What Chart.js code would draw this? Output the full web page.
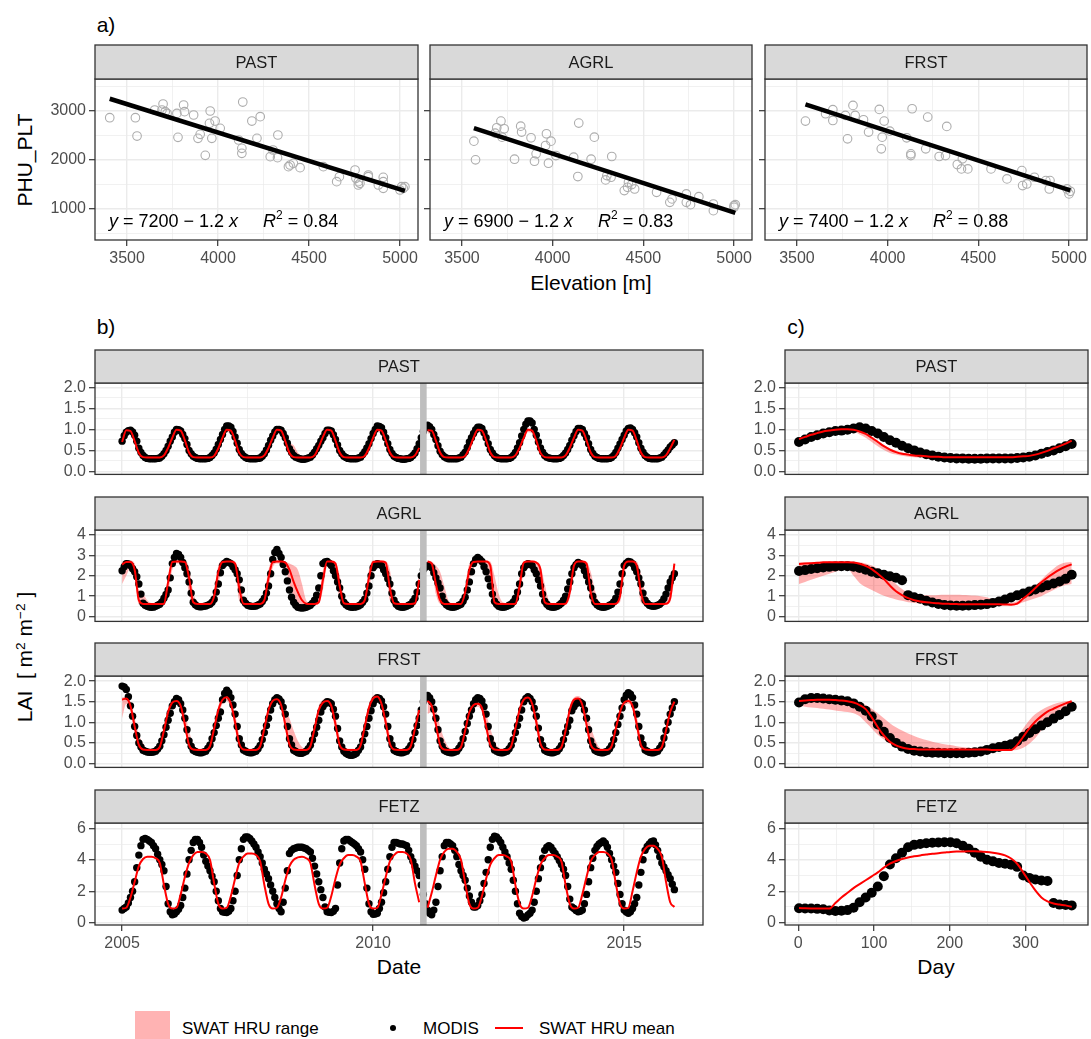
<!DOCTYPE html>
<html>
<head>
<meta charset="utf-8">
<script src="https://cdn.jsdelivr.net/npm/chart.js@4.4.0/dist/chart.umd.min.js"></script>
<style>
  body { margin: 0; width: 1091px; height: 1039px; position: relative; overflow: hidden; background: #fff;
         font-family: "Liberation Sans", Arial, sans-serif; color: #000; }
  canvas { position: absolute; }
  .t { position: absolute; white-space: nowrap; line-height: 1; }
  .c { transform: translate(-50%, -50%); }
  .v { transform: translate(-50%, -50%) rotate(-90deg); }
  .m { transform: translateY(-50%); }
  sup { font-size: 65%; vertical-align: 0; position: relative; top: -0.55em; }
</style>
</head>
<body>

<div class="t c" style="left:106px;top:24px;font-size:21px">a)</div>
<div class="t c" style="left:106px;top:326px;font-size:21px">b)</div>
<div class="t c" style="left:796px;top:326px;font-size:21px">c)</div>

<div class="t c" style="left:591px;top:282px;font-size:21px">Elevation [m]</div>
<div class="t v" style="left:24px;top:160px;font-size:21px">PHU_PLT</div>
<div class="t v" style="left:24px;top:657px;font-size:21px">LAI&nbsp; [ m<sup>2</sup> m<sup>&minus;2</sup> ]</div>
<div class="t c" style="left:399px;top:966px;font-size:21px">Date</div>
<div class="t c" style="left:936px;top:966px;font-size:21px">Day</div>

<!-- legend -->
<div style="position:absolute;left:135px;top:1011px;width:35px;height:35px;background:#ffb3b3"></div>
<div class="t m" style="left:182px;top:1028px;font-size:17px">SWAT HRU range</div>
<div style="position:absolute;left:390px;top:1025px;width:6px;height:6px;border-radius:50%;background:#000"></div>
<div class="t m" style="left:423px;top:1028px;font-size:17px">MODIS</div>
<div style="position:absolute;left:495px;top:1027px;width:28px;height:2px;background:#ff0000"></div>
<div class="t m" style="left:539px;top:1028px;font-size:17px">SWAT HRU mean</div>

<script>
// ---------- a) heat units to maturity vs. HRU elevation ----------
const pastElev = [3405,3546,3555,3652,3698,3692,3710,3720,3774,3780,3811,3816,3866,3890,3902,3930,3957,3953,3966,3984,4012,4136,4131,4131,4113,4186,4232,4214,4329,4287,4327,4302,4387,4396,4414,4451,4579,4652,4667,4753,4758,4771,4780,4826,4826,4908,4908,4908,4881,5009,5018,5027,5000,4771];
const pastPhu  = [2863,2863,2489,3020,3142,3020,2986,2950,2950,2462,3122,2986,2918,2442,2523,2095,3000,2748,2442,2795,2646,3183,2238,2136,2408,2795,2884,2442,2510,2068,2047,2204,1864,1898,1932,1843,1864,1558,1660,1796,1626,1558,1524,1694,1660,1646,1558,1422,1490,1456,1422,1456,1388,1490];
const agrlElev = [3566,3575,3692,3715,3733,3721,3683,3790,3824,3829,3881,3909,3900,3966,3961,3977,3991,4018,4116,4139,4144,4212,4230,4326,4292,4299,4322,4395,4413,4436,4452,4418,4573,4646,4658,4737,4737,4760,4806,4886,4886,5000,5007,5000];
const agrlPhu  = [2384,2003,2657,2794,2637,2466,2548,2016,2691,2569,2453,2125,1975,2535,2296,1934,2384,2091,2057,1662,2753,2016,2466,2071,1593,1682,1648,1375,1443,1498,1409,1546,1341,1136,1205,1307,1136,1089,1252,1102,966,1068,1089,1034];
const frstElev = [3547,3698,3658,3698,3767,3809,3821,3867,3895,3779,3954,3981,3970,3965,4012,4105,4128,4128,4135,4221,4210,4284,4326,4319,4384,4412,4407,4442,4570,4658,4740,4744,4767,4809,4872,4891,4895,4989,5000,5007];
const frstPhu  = [2794,3026,2944,2807,2910,3114,2910,2821,2569,2432,3033,2794,2466,2228,2589,2453,2125,2091,3046,2876,2228,2071,2685,2091,1907,2023,1818,1818,1818,1614,1784,1477,1511,1648,1580,1409,1580,1409,1307,1361];

const landuse = ['PAST', 'AGRL', 'FRST'];
const fitIntercept = [7200, 6930, 7390];
const fitSlope = [-1.16, -1.2, -1.2];
const fitR2 = [0.84, 0.83, 0.88];

// ---------- b) LAI 2005-2016, c) mean seasonal cycle ----------
const START_YEAR = 2005;
const SPLIT_YEAR = 2011;

// MODIS, twice a month (1st and 16th), one row per year
const pastModis = [
  0.72,0.85,0.93,0.97,0.98,0.94,0.86,0.72,0.55,0.45,0.38,0.33,0.31,0.30,0.30,0.30,0.30,0.31,0.32,0.36,0.42,0.50,0.60,0.72,
  0.82,0.93,1.00,0.99,0.96,0.88,0.78,0.64,0.50,0.42,0.36,0.33,0.31,0.30,0.30,0.30,0.30,0.31,0.33,0.38,0.44,0.53,0.64,0.76,
  0.88,1.00,1.08,1.08,1.05,0.95,0.82,0.67,0.52,0.43,0.37,0.33,0.31,0.30,0.30,0.30,0.30,0.31,0.32,0.36,0.42,0.51,0.62,0.74,
  0.84,0.94,1.00,1.00,0.98,0.90,0.80,0.67,0.54,0.45,0.38,0.34,0.32,0.30,0.29,0.29,0.30,0.32,0.34,0.39,0.46,0.54,0.62,0.72,
  0.80,0.90,0.98,0.98,0.96,0.87,0.76,0.63,0.50,0.42,0.36,0.33,0.31,0.30,0.30,0.30,0.30,0.32,0.34,0.40,0.47,0.56,0.66,0.78,
  0.90,1.00,1.08,1.07,1.04,0.93,0.80,0.66,0.52,0.43,0.36,0.33,0.31,0.30,0.29,0.29,0.30,0.31,0.33,0.38,0.44,0.54,0.66,0.80,
  0.95,1.04,1.10,1.06,1.00,0.88,0.76,0.61,0.48,0.40,0.35,0.32,0.30,0.30,0.30,0.30,0.30,0.32,0.34,0.40,0.46,0.57,0.70,0.80,
  0.90,0.99,1.05,1.05,1.02,0.92,0.80,0.66,0.52,0.44,0.37,0.33,0.31,0.30,0.30,0.30,0.30,0.31,0.33,0.38,0.45,0.56,0.68,0.84,
  1.00,1.12,1.20,1.20,1.15,1.00,0.86,0.70,0.56,0.46,0.38,0.34,0.32,0.31,0.30,0.30,0.30,0.31,0.33,0.38,0.44,0.52,0.62,0.74,
  0.85,0.95,1.02,1.02,1.00,0.90,0.80,0.66,0.52,0.43,0.36,0.33,0.31,0.30,0.30,0.30,0.30,0.31,0.33,0.38,0.45,0.55,0.65,0.76,
  0.86,0.96,1.02,1.03,1.00,0.92,0.82,0.68,0.55,0.46,0.38,0.34,0.31,0.30,0.30,0.30,0.30,0.32,0.34,0.39,0.45,0.51,0.58,0.63,
  0.68];
// SWAT HRU mean and range, monthly (1st of month), one row per year
const pastMean = [
  0.70,0.98,0.96,0.72,0.44,0.34,0.33,0.33,0.33,0.33,0.38,0.56,
  0.80,0.99,0.97,0.74,0.45,0.34,0.33,0.33,0.33,0.33,0.37,0.55,
  0.80,0.99,0.97,0.73,0.44,0.34,0.33,0.33,0.33,0.33,0.38,0.56,
  0.80,0.99,0.97,0.72,0.44,0.34,0.33,0.33,0.33,0.33,0.38,0.58,
  0.82,0.99,0.97,0.73,0.45,0.34,0.33,0.33,0.33,0.33,0.37,0.55,
  0.80,0.99,0.97,0.74,0.45,0.34,0.33,0.33,0.33,0.33,0.38,0.56,
  null,0.98,0.97,0.73,0.45,0.34,0.33,0.33,0.33,0.33,0.37,0.55,
  0.80,0.99,0.97,0.74,0.45,0.34,0.33,0.33,0.33,0.33,0.38,0.56,
  0.80,0.99,0.97,0.73,0.44,0.34,0.33,0.33,0.33,0.33,0.38,0.56,
  0.80,0.99,0.97,0.74,0.45,0.34,0.33,0.33,0.33,0.33,0.37,0.55,
  0.80,0.99,0.97,0.73,0.45,0.34,0.33,0.33,0.33,0.33,0.38,0.55,
  0.75];
const pastLo = [
  0.60,0.92,0.90,0.66,0.40,0.31,0.30,0.30,0.30,0.30,0.34,0.48,
  0.72,0.93,0.90,0.68,0.41,0.31,0.30,0.30,0.30,0.30,0.34,0.50,
  0.74,0.93,0.90,0.66,0.40,0.31,0.30,0.30,0.30,0.30,0.34,0.50,
  0.74,0.93,0.90,0.66,0.40,0.31,0.30,0.30,0.30,0.30,0.34,0.50,
  0.75,0.93,0.90,0.68,0.41,0.31,0.30,0.30,0.30,0.30,0.34,0.50,
  0.74,0.93,0.90,0.68,0.41,0.31,0.30,0.30,0.30,0.30,0.34,0.50,
  null,0.90,0.90,0.68,0.41,0.31,0.30,0.30,0.30,0.30,0.34,0.50,
  0.72,0.93,0.90,0.68,0.41,0.31,0.30,0.30,0.30,0.30,0.34,0.50,
  0.74,0.93,0.90,0.68,0.41,0.31,0.30,0.30,0.30,0.30,0.34,0.50,
  0.74,0.93,0.90,0.68,0.41,0.31,0.30,0.30,0.30,0.30,0.34,0.50,
  0.74,0.93,0.90,0.68,0.41,0.31,0.30,0.30,0.30,0.30,0.34,0.50,
  0.70];
const pastHi = [
  0.84,1.02,1.00,0.80,0.52,0.38,0.35,0.35,0.35,0.35,0.42,0.60,
  0.84,1.02,1.00,0.88,0.68,0.45,0.35,0.35,0.35,0.35,0.42,0.60,
  0.84,1.02,1.00,0.78,0.50,0.38,0.35,0.35,0.35,0.35,0.42,0.60,
  0.84,1.02,1.00,0.85,0.68,0.62,0.45,0.36,0.35,0.35,0.42,0.62,
  0.86,1.02,1.00,0.80,0.52,0.38,0.35,0.35,0.35,0.35,0.42,0.60,
  0.84,1.02,1.00,0.80,0.52,0.38,0.35,0.35,0.35,0.35,0.42,0.60,
  null,1.02,1.00,0.80,0.55,0.45,0.35,0.35,0.35,0.35,0.42,0.60,
  0.84,1.02,1.00,0.82,0.60,0.42,0.35,0.35,0.35,0.35,0.42,0.60,
  0.84,1.02,1.00,0.80,0.52,0.38,0.35,0.35,0.35,0.35,0.42,0.60,
  0.84,1.02,1.00,0.80,0.52,0.38,0.35,0.35,0.35,0.35,0.42,0.60,
  0.84,1.02,1.00,0.80,0.52,0.38,0.35,0.35,0.35,0.35,0.42,0.60,
  0.80];

const agrlModis = [
  2.25,2.45,2.60,2.58,2.50,2.35,2.20,1.95,1.60,1.10,0.65,0.55,0.50,0.47,0.45,0.46,0.50,0.55,0.60,0.72,0.90,1.08,1.30,1.90,
  2.60,2.90,3.10,3.05,2.90,2.65,2.40,2.10,1.70,1.15,0.70,0.58,0.50,0.48,0.48,0.50,0.52,0.56,0.60,0.70,0.85,1.20,1.60,2.15,
  2.50,2.62,2.70,2.66,2.60,2.45,2.30,2.10,1.80,1.30,0.80,0.65,0.55,0.52,0.50,0.50,0.52,0.57,0.62,0.74,0.90,1.15,1.50,2.10,
  2.80,3.15,3.30,3.10,2.90,2.55,2.20,1.75,1.30,0.95,0.70,0.55,0.45,0.43,0.42,0.43,0.45,0.50,0.55,0.66,0.80,1.05,1.40,2.00,
  2.60,2.68,2.70,2.62,2.50,2.25,2.00,1.70,1.40,1.00,0.70,0.58,0.50,0.47,0.45,0.46,0.48,0.52,0.58,0.70,0.85,1.15,1.50,2.00,
  2.40,2.52,2.60,2.56,2.50,2.30,2.10,1.85,1.60,1.15,0.80,0.60,0.50,0.47,0.45,0.47,0.50,0.55,0.60,0.74,0.90,1.20,1.60,2.00,
  2.30,2.42,2.50,2.48,2.40,2.15,1.90,1.65,1.40,1.00,0.70,0.58,0.50,0.47,0.45,0.47,0.50,0.55,0.60,0.75,0.95,1.30,1.70,2.20,
  2.60,2.80,2.90,2.82,2.70,2.45,2.20,1.85,1.50,1.10,0.75,0.60,0.50,0.47,0.45,0.47,0.50,0.55,0.60,0.72,0.90,1.20,1.60,2.10,
  2.40,2.52,2.60,2.56,2.50,2.30,2.10,1.80,1.50,1.10,0.75,0.60,0.50,0.47,0.45,0.47,0.50,0.57,0.65,0.80,1.00,1.35,1.70,2.10,
  2.40,2.55,2.65,2.60,2.50,2.25,2.00,1.70,1.40,1.00,0.70,0.58,0.50,0.47,0.45,0.47,0.50,0.55,0.60,0.72,0.90,1.20,1.60,2.10,
  2.50,2.62,2.70,2.68,2.60,2.40,2.20,1.90,1.60,1.15,0.80,0.65,0.55,0.52,0.50,0.52,0.55,0.60,0.70,0.88,1.10,1.40,1.70,1.90,
  2.10];
const agrlMean = [
  2.55,2.68,2.68,2.30,0.80,0.62,0.62,0.62,0.62,0.62,0.63,1.70,
  2.68,2.70,2.70,2.68,1.90,0.70,0.62,0.62,0.62,0.62,1.00,2.20,
  2.68,2.70,2.70,2.60,1.40,0.63,0.62,0.62,0.62,0.62,0.80,1.90,
  2.68,2.70,2.70,2.65,2.30,1.70,1.20,0.80,0.63,0.62,0.62,0.70,
  1.80,2.70,2.70,2.60,1.50,0.65,0.62,0.62,0.62,0.62,0.80,1.90,
  2.68,2.70,2.70,2.65,1.40,0.65,0.62,0.62,0.62,0.62,0.65,1.80,
  null,2.70,2.60,1.60,0.80,0.62,0.62,0.62,0.62,0.62,1.20,2.30,
  2.68,2.70,2.70,2.70,2.50,0.70,0.62,0.62,0.62,0.62,0.63,1.50,
  2.65,2.70,2.70,2.65,2.30,0.70,0.62,0.62,0.62,0.62,0.63,1.20,
  2.50,2.70,2.70,2.60,1.20,0.62,0.62,0.62,0.62,0.62,0.63,1.00,
  2.50,2.70,2.70,2.50,1.20,0.62,0.62,0.62,0.62,0.62,0.63,0.90,
  2.60];
const agrlLo = [
  1.60,2.00,2.40,2.00,0.60,0.58,0.58,0.58,0.58,0.58,0.60,1.20,
  2.30,2.60,2.60,2.50,1.10,0.60,0.58,0.58,0.58,0.58,0.70,1.60,
  2.40,2.60,2.60,2.30,0.80,0.58,0.58,0.58,0.58,0.58,0.62,1.40,
  2.40,2.60,2.60,2.40,1.60,1.00,0.70,0.60,0.58,0.58,0.58,0.62,
  1.30,2.50,2.60,2.30,0.80,0.60,0.58,0.58,0.58,0.58,0.62,1.30,
  2.40,2.60,2.60,2.40,0.80,0.60,0.58,0.58,0.58,0.58,0.60,1.30,
  null,2.50,2.40,1.10,0.62,0.58,0.58,0.58,0.58,0.58,0.90,1.80,
  2.40,2.60,2.60,2.50,1.60,0.60,0.58,0.58,0.58,0.58,0.60,1.00,
  2.20,2.60,2.60,2.50,1.40,0.60,0.58,0.58,0.58,0.58,0.60,0.90,
  2.00,2.60,2.60,2.30,0.70,0.58,0.58,0.58,0.58,0.58,0.60,0.70,
  2.00,2.60,2.60,2.20,0.70,0.58,0.58,0.58,0.58,0.58,0.60,0.70,
  1.80];
const agrlHi = [
  2.70,2.75,2.75,2.60,1.30,1.10,0.80,0.66,0.66,0.66,0.70,2.00,
  2.75,2.75,2.75,2.75,2.40,1.20,0.70,0.66,0.66,0.66,1.30,2.50,
  2.75,2.75,2.75,2.70,2.00,0.90,0.66,0.66,0.66,0.66,1.10,2.30,
  2.75,2.75,2.75,2.70,2.60,2.50,2.30,1.60,0.80,0.66,0.66,0.90,
  2.30,2.75,2.75,2.70,2.00,1.00,0.66,0.66,0.66,0.66,1.00,2.30,
  2.75,2.75,2.75,2.72,2.30,0.90,0.66,0.66,0.66,0.66,0.70,2.20,
  null,2.75,2.70,2.50,2.20,1.50,0.80,0.66,0.66,0.66,1.50,2.60,
  2.75,2.75,2.75,2.75,2.70,2.00,1.10,0.70,0.66,0.66,0.70,2.00,
  2.70,2.75,2.75,2.70,2.50,1.60,0.80,0.66,0.66,0.66,0.70,1.80,
  2.70,2.75,2.75,2.70,2.20,1.30,0.70,0.66,0.66,0.66,0.70,1.60,
  2.70,2.75,2.75,2.70,2.10,1.20,0.70,0.66,0.66,0.66,0.70,1.40,
  2.70];

const frstModis = [
  1.88,1.86,1.80,1.62,1.40,1.15,0.90,0.68,0.50,0.40,0.32,0.30,0.28,0.27,0.27,0.28,0.30,0.35,0.42,0.55,0.70,0.88,1.05,1.22,
  1.40,1.50,1.58,1.55,1.45,1.30,1.10,0.82,0.55,0.42,0.32,0.29,0.27,0.26,0.26,0.28,0.30,0.37,0.45,0.60,0.75,0.92,1.10,1.25,
  1.55,1.70,1.78,1.72,1.60,1.42,1.20,0.90,0.60,0.45,0.33,0.30,0.27,0.26,0.26,0.28,0.30,0.36,0.44,0.58,0.75,0.92,1.10,1.30,
  1.45,1.55,1.60,1.57,1.50,1.37,1.20,0.90,0.60,0.45,0.32,0.29,0.26,0.25,0.25,0.27,0.30,0.36,0.44,0.57,0.72,0.88,1.05,1.25,
  1.38,1.45,1.50,1.49,1.45,1.32,1.15,0.85,0.55,0.40,0.30,0.25,0.22,0.20,0.20,0.22,0.25,0.32,0.40,0.55,0.72,0.90,1.10,1.28,
  1.45,1.55,1.60,1.58,1.52,1.38,1.20,0.90,0.60,0.45,0.32,0.29,0.27,0.26,0.26,0.28,0.30,0.36,0.44,0.58,0.75,0.92,1.10,1.30,
  1.50,1.60,1.65,1.60,1.50,1.32,1.10,0.82,0.55,0.42,0.32,0.29,0.27,0.26,0.26,0.28,0.30,0.37,0.45,0.60,0.78,0.97,1.15,1.30,
  1.45,1.55,1.60,1.58,1.52,1.38,1.20,0.90,0.60,0.45,0.33,0.30,0.27,0.26,0.26,0.28,0.30,0.36,0.44,0.58,0.75,0.92,1.10,1.30,
  1.50,1.58,1.62,1.58,1.50,1.34,1.15,0.86,0.58,0.44,0.32,0.29,0.27,0.26,0.26,0.28,0.30,0.36,0.44,0.58,0.75,0.90,1.05,1.28,
  1.38,1.45,1.50,1.49,1.45,1.30,1.10,0.82,0.55,0.42,0.32,0.29,0.27,0.26,0.26,0.28,0.30,0.36,0.44,0.58,0.75,0.95,1.15,1.35,
  1.55,1.66,1.72,1.68,1.60,1.42,1.20,0.90,0.62,0.46,0.33,0.30,0.27,0.26,0.26,0.28,0.30,0.37,0.45,0.62,0.80,1.00,1.20,1.35,
  1.50];
const frstMean = [
  1.55,1.58,1.40,0.90,0.45,0.34,0.33,0.33,0.33,0.40,0.80,1.25,
  1.48,1.52,1.40,0.95,0.45,0.34,0.33,0.33,0.33,0.42,0.85,1.30,
  1.55,1.61,1.45,1.00,0.48,0.34,0.33,0.33,0.33,0.42,0.85,1.30,
  1.52,1.56,1.42,0.95,0.46,0.34,0.33,0.33,0.33,0.42,0.85,1.30,
  1.48,1.52,1.40,0.95,0.45,0.34,0.33,0.33,0.33,0.44,0.90,1.35,
  1.58,1.63,1.45,1.00,0.48,0.34,0.33,0.33,0.33,0.42,0.85,1.30,
  null,1.52,1.40,0.95,0.45,0.34,0.33,0.33,0.33,0.40,0.80,1.25,
  1.42,1.45,1.35,0.90,0.45,0.34,0.33,0.33,0.33,0.42,0.85,1.30,
  1.55,1.60,1.45,1.00,0.48,0.34,0.33,0.33,0.33,0.40,0.80,1.30,
  1.55,1.58,1.42,0.95,0.46,0.34,0.33,0.33,0.33,0.42,0.85,1.25,
  1.48,1.52,1.40,0.95,0.45,0.34,0.33,0.33,0.33,0.40,0.80,1.25,
  1.50];
const frstLo = [
  1.10,1.45,1.25,0.75,0.38,0.31,0.30,0.30,0.30,0.34,0.60,1.10,
  1.38,1.45,1.30,0.80,0.38,0.31,0.30,0.30,0.30,0.35,0.65,1.15,
  1.45,1.52,1.35,0.85,0.40,0.31,0.30,0.30,0.30,0.35,0.65,1.15,
  1.42,1.48,1.32,0.80,0.40,0.31,0.30,0.30,0.30,0.35,0.65,1.15,
  1.38,1.45,1.30,0.80,0.38,0.31,0.30,0.30,0.30,0.36,0.70,1.20,
  1.48,1.55,1.35,0.85,0.40,0.31,0.30,0.30,0.30,0.35,0.65,1.15,
  null,1.20,1.25,0.80,0.38,0.31,0.30,0.30,0.30,0.34,0.60,1.10,
  1.32,1.38,1.25,0.78,0.38,0.31,0.30,0.30,0.30,0.35,0.65,1.15,
  1.45,1.52,1.35,0.85,0.40,0.31,0.30,0.30,0.30,0.34,0.60,1.15,
  1.45,1.50,1.32,0.80,0.38,0.31,0.30,0.30,0.30,0.35,0.65,1.10,
  1.38,1.45,1.30,0.80,0.38,0.31,0.30,0.30,0.30,0.34,0.60,1.10,
  1.35];
const frstHi = [
  1.60,1.62,1.50,1.10,0.70,0.50,0.36,0.36,0.36,0.46,0.90,1.35,
  1.55,1.58,1.50,1.20,0.80,0.45,0.36,0.36,0.36,0.48,0.95,1.40,
  1.60,1.66,1.55,1.20,0.70,0.42,0.36,0.36,0.36,0.48,0.95,1.40,
  1.58,1.62,1.55,1.35,1.10,0.80,0.55,0.40,0.36,0.48,0.95,1.40,
  1.55,1.58,1.50,1.15,0.65,0.40,0.36,0.36,0.36,0.50,1.00,1.45,
  1.65,1.68,1.55,1.20,0.70,0.42,0.36,0.36,0.36,0.48,0.95,1.40,
  null,1.60,1.55,1.30,0.90,0.60,0.40,0.36,0.36,0.46,0.90,1.35,
  1.50,1.52,1.48,1.20,0.85,0.55,0.38,0.36,0.36,0.48,0.95,1.40,
  1.60,1.66,1.55,1.20,0.70,0.42,0.36,0.36,0.36,0.46,0.90,1.40,
  1.60,1.64,1.55,1.25,0.90,0.60,0.40,0.36,0.36,0.48,0.95,1.35,
  1.55,1.58,1.50,1.15,0.65,0.40,0.36,0.36,0.36,0.46,0.90,1.35,
  1.55];

const fetzModis = [
  0.80,0.90,1.00,1.25,1.60,2.00,2.60,3.50,4.30,4.90,5.30,5.35,5.30,5.20,5.10,4.90,4.70,4.35,4.00,3.70,3.30,2.30,1.20,0.70,
  0.50,0.55,0.70,0.85,1.10,1.60,2.20,3.10,4.00,4.60,5.10,5.30,5.30,5.10,4.80,4.30,3.90,3.60,3.30,2.95,2.60,2.00,1.40,0.90,
  0.70,0.66,0.65,0.72,0.90,1.40,2.00,3.00,4.00,4.70,5.30,5.45,5.45,5.35,5.20,5.00,4.80,4.50,4.20,3.80,3.40,3.10,2.80,2.40,
  2.00,1.60,1.20,0.90,0.70,1.30,2.20,3.30,4.40,4.60,4.70,4.75,4.80,4.80,4.80,4.75,4.70,4.60,4.50,4.10,3.60,3.10,2.60,2.10,
  1.60,1.00,0.70,0.66,0.65,0.72,0.90,2.40,3.80,4.70,5.20,5.30,5.30,5.20,5.10,5.00,4.90,4.70,4.50,4.00,3.40,2.20,1.20,0.70,
  0.54,0.55,0.60,0.90,1.30,1.90,2.60,3.40,4.20,4.80,5.10,5.10,5.05,5.00,5.00,4.95,4.90,4.60,4.20,3.90,3.60,3.30,3.00,2.40,
  1.80,1.20,0.80,0.60,0.50,0.80,1.30,2.30,3.30,4.20,4.90,5.10,5.10,5.00,4.90,4.60,4.20,3.70,3.30,3.00,2.70,2.20,1.70,1.30,
  1.00,1.00,1.10,1.40,1.80,2.50,3.20,4.00,4.80,5.30,5.50,5.45,5.30,5.10,4.80,4.50,4.20,3.80,3.40,2.70,2.00,1.20,0.60,0.40,
  0.30,0.35,0.50,0.60,0.80,1.30,2.00,2.80,3.50,4.10,4.60,4.80,4.90,4.80,4.60,4.40,4.20,3.95,3.70,3.40,3.00,2.30,1.50,1.00,
  0.90,0.78,0.70,0.72,0.80,1.20,1.80,2.60,3.50,4.10,4.60,4.85,5.00,5.10,5.20,5.05,4.80,4.40,4.00,3.60,3.20,2.50,1.80,1.20,
  0.80,0.68,0.60,0.70,0.90,1.20,1.60,2.40,3.20,4.00,4.60,4.85,5.00,5.15,5.20,4.95,4.60,4.20,3.80,3.55,3.30,3.05,2.80,2.45,
  2.10];
const fetzMean = [
  0.90,0.95,1.60,2.60,3.60,4.05,4.20,4.20,4.10,3.80,2.40,1.20,
  0.90,0.95,1.80,2.90,3.80,4.30,4.50,4.50,4.40,4.00,2.50,1.20,
  0.90,0.95,1.70,2.80,3.80,4.20,4.40,4.40,4.30,3.90,2.40,1.20,
  0.90,0.95,1.60,2.70,3.60,4.00,4.15,4.20,4.10,3.80,2.40,1.20,
  0.90,0.95,1.70,2.80,3.70,4.10,4.30,4.30,4.20,3.90,2.50,1.20,
  0.90,0.95,1.80,2.90,3.90,4.30,4.50,4.50,4.40,4.00,2.50,1.30,
  null,0.95,1.90,3.00,4.00,4.50,4.70,4.70,4.50,4.00,2.50,1.20,
  0.90,0.95,1.70,2.80,3.70,4.10,4.30,4.30,4.20,3.90,2.40,1.20,
  0.90,0.95,1.70,2.80,3.70,4.10,4.30,4.30,4.20,3.90,2.40,1.20,
  0.90,0.95,1.80,2.90,3.90,4.30,4.50,4.50,4.40,4.00,2.50,1.20,
  0.90,0.95,2.00,3.20,4.20,4.70,4.90,4.90,4.70,4.20,2.60,1.30,
  1.00];

// day-of-year composites (8-day MODIS steps)
const dayGrid = [1,9,17,25,33,41,49,57,65,73,81,89,97,105,113,121,129,137,145,153,161,169,177,185,193,201,209,217,225,233,241,249,257,265,273,281,289,297,305,313,321,329,337,345,353,361];

const cPastModis = [0.70,0.76,0.82,0.86,0.90,0.93,0.96,0.97,0.99,1.02,1.05,1.02,0.96,0.90,0.82,0.74,0.68,0.61,0.55,0.50,0.45,0.41,0.38,0.35,0.33,0.32,0.31,0.31,0.30,0.30,0.30,0.31,0.31,0.31,0.31,0.31,0.32,0.33,0.35,0.38,0.42,0.46,0.50,0.55,0.60,0.65];
const cPastMean  = [0.77,0.82,0.87,0.91,0.95,0.97,0.99,1.00,1.00,0.99,0.95,0.89,0.80,0.70,0.60,0.52,0.46,0.42,0.40,0.38,0.37,0.36,0.35,0.35,0.34,0.34,0.34,0.34,0.34,0.34,0.34,0.34,0.34,0.34,0.34,0.34,0.35,0.36,0.37,0.40,0.44,0.49,0.55,0.60,0.66,0.73];
const cPastLo    = [0.72,0.78,0.83,0.87,0.91,0.93,0.95,0.96,0.96,0.94,0.88,0.80,0.70,0.60,0.51,0.44,0.40,0.37,0.35,0.34,0.33,0.33,0.32,0.32,0.32,0.32,0.32,0.32,0.32,0.32,0.32,0.32,0.32,0.32,0.32,0.32,0.33,0.34,0.35,0.37,0.41,0.45,0.50,0.55,0.61,0.68];
const cPastHi    = [0.80,0.85,0.90,0.94,0.98,1.00,1.02,1.03,1.03,1.02,0.98,0.92,0.83,0.73,0.63,0.55,0.49,0.45,0.42,0.40,0.39,0.38,0.37,0.37,0.36,0.36,0.36,0.36,0.36,0.36,0.36,0.36,0.36,0.36,0.36,0.36,0.37,0.38,0.39,0.42,0.47,0.52,0.58,0.63,0.69,0.76];

const cAgrlModis = [2.24,2.28,2.33,2.37,2.41,2.44,2.46,2.47,2.47,2.45,2.38,2.30,2.20,2.12,2.05,1.98,1.90,1.78,1.05,0.95,0.87,0.77,0.69,0.62,0.57,0.54,0.53,0.53,0.54,0.56,0.58,0.61,0.67,0.74,0.84,0.94,1.04,1.13,1.23,1.33,1.43,1.53,1.62,1.72,1.85,2.05];
const cAgrlMean  = [2.58,2.60,2.62,2.64,2.66,2.67,2.67,2.67,2.67,2.65,2.59,2.49,2.33,2.10,1.84,1.52,1.24,1.05,0.90,0.80,0.74,0.70,0.67,0.65,0.63,0.62,0.61,0.60,0.60,0.60,0.60,0.60,0.60,0.60,0.59,0.58,0.63,0.88,1.12,1.40,1.68,1.92,2.12,2.30,2.45,2.56];
const cAgrlLo    = [1.60,1.70,1.80,1.90,2.00,2.10,2.20,2.28,2.35,2.00,1.65,1.45,1.30,1.15,1.02,0.92,0.84,0.77,0.70,0.67,0.64,0.62,0.60,0.59,0.58,0.58,0.57,0.57,0.57,0.57,0.57,0.57,0.56,0.56,0.55,0.55,0.58,0.70,0.80,0.90,1.00,1.15,1.30,1.45,1.55,1.60];
const cAgrlHi    = [2.65,2.66,2.67,2.68,2.69,2.70,2.70,2.70,2.70,2.68,2.66,2.60,2.50,2.35,2.15,1.90,1.60,1.35,1.15,1.05,1.05,1.05,1.05,1.06,1.07,1.07,1.07,1.06,1.05,1.03,1.00,0.95,0.85,0.75,0.70,0.68,0.75,0.95,1.20,1.50,1.80,2.10,2.35,2.55,2.65,2.68];

const cFrstModis = [1.48,1.56,1.59,1.59,1.58,1.56,1.55,1.53,1.51,1.46,1.38,1.28,1.14,0.95,0.77,0.62,0.50,0.41,0.35,0.31,0.29,0.27,0.26,0.26,0.25,0.25,0.25,0.25,0.26,0.27,0.29,0.33,0.37,0.40,0.43,0.47,0.54,0.65,0.74,0.83,0.92,1.00,1.09,1.18,1.27,1.38];
const cFrstMean  = [1.52,1.53,1.54,1.55,1.55,1.55,1.54,1.53,1.51,1.48,1.42,1.32,1.12,0.88,0.68,0.53,0.44,0.39,0.36,0.35,0.34,0.34,0.34,0.34,0.34,0.34,0.34,0.34,0.34,0.34,0.34,0.34,0.33,0.33,0.33,0.33,0.45,0.65,0.85,1.02,1.15,1.26,1.33,1.40,1.46,1.51];
const cFrstLo    = [1.42,1.38,1.36,1.35,1.33,1.31,1.29,1.27,1.25,1.22,1.15,1.00,0.85,0.70,0.58,0.48,0.42,0.37,0.35,0.34,0.33,0.33,0.33,0.33,0.33,0.33,0.33,0.33,0.33,0.33,0.33,0.32,0.32,0.32,0.32,0.32,0.33,0.38,0.48,0.62,0.80,0.98,1.15,1.28,1.38,1.45];
const cFrstHi    = [1.55,1.57,1.58,1.58,1.58,1.58,1.57,1.56,1.54,1.52,1.48,1.42,1.33,1.22,1.10,0.98,0.88,0.80,0.73,0.67,0.61,0.57,0.53,0.50,0.47,0.45,0.42,0.40,0.38,0.36,0.35,0.35,0.35,0.35,0.36,0.40,0.62,0.85,1.05,1.20,1.30,1.38,1.44,1.48,1.51,1.53];

const cFetzModis = [0.92,0.90,0.90,0.88,0.85,0.78,0.74,0.76,0.80,0.95,1.30,1.60,1.90,2.30,2.95,3.70,4.10,4.45,4.80,4.95,5.00,5.05,5.08,5.10,5.12,5.12,5.05,4.90,4.70,4.45,4.20,4.00,3.90,3.80,3.75,3.68,3.55,3.00,2.85,2.75,2.68,2.65,1.25,1.15,1.12,1.10];
const cFetzMean  = [0.93,0.92,0.91,0.90,0.90,0.90,1.25,1.60,1.90,2.20,2.45,2.70,2.95,3.20,3.50,3.75,3.92,4.05,4.15,4.22,4.28,4.33,4.38,4.42,4.46,4.50,4.52,4.53,4.54,4.54,4.52,4.50,4.45,4.38,4.28,4.08,3.75,3.20,2.60,2.05,1.60,1.35,1.22,1.15,1.10,1.00];

// ---------- drawing ----------
Chart.defaults.font.family = '"Liberation Sans", Arial, sans-serif';
const FONT = '"Liberation Sans", Arial, sans-serif';
const GRID = '#ebebeb', INK = '#333333';

const halfMonthly = vals => vals.map((v, i) => ({ x: START_YEAR + i / 24, y: v }));
const monthly = vals => vals.map((v, i) => ({ x: START_YEAR + i / 12, y: v }));
const byDay = vals => vals.map((v, i) => ({ x: dayGrid[i], y: v }));

// strip label, panel border, calibration split bar, equation text
const facetFrame = {
  id: 'facetFrame',
  afterDatasetsDraw(chart, args, o) {
    const { ctx, chartArea: a, scales } = chart;
    if (o.split != null) {
      const xs = scales.x.getPixelForValue(o.split);
      ctx.save();
      ctx.fillStyle = '#bebebe';
      ctx.fillRect(xs - 3.3, a.top, 6.6, a.bottom - a.top);
      ctx.restore();
    }
    if (o.note) o.note(ctx, a);
  },
  afterDraw(chart, args, o) {
    const { ctx, chartArea: a } = chart;
    ctx.save();
    ctx.lineWidth = 1.3;
    ctx.strokeStyle = INK;
    ctx.strokeRect(a.left, a.top, a.right - a.left, a.bottom - a.top);
    ctx.fillStyle = '#d9d9d9';
    ctx.fillRect(a.left, a.top - o.strip, a.right - a.left, o.strip);
    ctx.strokeRect(a.left, a.top - o.strip, a.right - a.left, o.strip);
    ctx.fillStyle = '#1a1a1a';
    ctx.font = '16.5px ' + FONT;
    ctx.textAlign = 'center';
    ctx.textBaseline = 'middle';
    ctx.fillText(o.label, (a.left + a.right) / 2, a.top - o.strip / 2 + 1);
    ctx.restore();
  }
};

function axisOpts(a, dir, size) {
  const major = new Set(a.major);
  const isMajor = ctx => ctx.tick && major.has(ctx.tick.value);
  return {
    type: 'linear', min: a.min, max: a.max,
    afterBuildTicks: s => { s.ticks = a.major.concat(a.minor).map(v => ({ value: v })); },
    afterFit: s => { if (dir === 'x') s.height = size; else s.width = size; },
    border: { display: false },
    grid: {
      color: GRID,
      lineWidth: ctx => isMajor(ctx) ? 1.4 : 0.7,
      drawTicks: a.ticks,
      tickLength: 6,
      tickWidth: 1.2,
      tickColor: ctx => isMajor(ctx) ? INK : 'rgba(0,0,0,0)'
    },
    ticks: {
      display: a.labels, autoSkip: false, maxRotation: 0, minRotation: 0,
      padding: 3, color: '#4d4d4d', font: { size: 16 },
      callback: v => major.has(v) ? a.fmt(v) : ''
    }
  };
}

function facet(o) {
  const m = 2;
  const cv = document.createElement('canvas');
  cv.width = o.padL + o.w + m;
  cv.height = m + o.strip + o.h + o.padB;
  cv.style.left = (o.left - o.padL) + 'px';
  cv.style.top = (o.top - m) + 'px';
  document.body.appendChild(cv);
  return new Chart(cv, {
    type: 'line',
    data: { datasets: o.datasets },
    options: {
      responsive: false, animation: false, events: [],
      layout: { autoPadding: false, padding: { top: m + o.strip, right: m, bottom: 0, left: 0 } },
      plugins: {
        legend: { display: false }, tooltip: { enabled: false },
        facetFrame: { label: o.label, strip: o.strip, split: o.split, note: o.note }
      },
      scales: { x: axisOpts(o.x, 'x', o.padB), y: axisOpts(o.y, 'y', o.padL) }
    },
    plugins: [facetFrame]
  });
}

// a) scatter + fitted line per land use
const elevSets = [[pastElev, pastPhu], [agrlElev, agrlPhu], [frstElev, frstPhu]];
const elevAxis = { min: 3324, max: 5099, major: [3500, 4000, 4500, 5000], minor: [3750, 4250, 4750], ticks: true, labels: true, fmt: v => String(v) };
const phuMajor = [1000, 2000, 3000], phuMinor = [500, 1500, 2500, 3500];

function eqNote(i) {
  return (ctx, a) => {
    const b0 = Number(fitIntercept[i].toPrecision(2));
    const b1 = Math.abs(fitSlope[i]).toPrecision(2);
    const parts = [
      ['y', 'italic '], [' = ' + b0 + ' \u2212 ' + b1 + ' ', ''], ['x', 'italic '],
      ['     ', ''], ['R', 'italic '], ['2', 'sup'], [' = ' + fitR2[i].toFixed(2), '']
    ];
    let x = a.left + 14;
    const y = a.bottom - 13;
    ctx.save();
    ctx.fillStyle = '#000';
    ctx.textAlign = 'left';
    ctx.textBaseline = 'alphabetic';
    for (const [t, st] of parts) {
      ctx.font = st === 'sup' ? '12px ' + FONT : st + '18px ' + FONT;
      ctx.fillText(t, x, st === 'sup' ? y - 8.5 : y);
      x += ctx.measureText(t).width;
    }
    ctx.restore();
  };
}

const aLeft = [95, 430, 765], aWidth = [323, 322, 322];
landuse.forEach((name, i) => {
  const [ex, py] = elevSets[i];
  const x0 = Math.min(...ex), x1 = Math.max(...ex);
  facet({
    label: name, left: aLeft[i], top: 45, w: aWidth[i], h: 161, strip: 34,
    padL: i === 0 ? 60 : 10, padB: 30,
    x: elevAxis,
    y: { min: 367, max: 3653, major: phuMajor, minor: phuMinor, ticks: true, labels: i === 0, fmt: v => String(v) },
    note: eqNote(i),
    datasets: [
      { data: [{ x: x0, y: fitIntercept[i] + fitSlope[i] * x0 }, { x: x1, y: fitIntercept[i] + fitSlope[i] * x1 }],
        borderColor: '#000', borderWidth: 4.5, pointRadius: 0, borderCapStyle: 'butt' },
      { data: ex.map((e, k) => ({ x: e, y: py[k] })), showLine: false, pointRadius: 4.3,
        pointBorderColor: '#adadad', pointBackgroundColor: 'rgba(0,0,0,0)', pointBorderWidth: 1.1 }
    ]
  });
});

// b) and c) LAI facets
function laiSets(series, dotXY, lineXY, dotR) {
  const [modis, mean, lo, hi] = series;
  const sets = [
    { data: lineXY(mean), borderColor: '#ff0000', borderWidth: 2, pointRadius: 0,
      cubicInterpolationMode: 'monotone', spanGaps: false, fill: false },
    { data: dotXY(modis), showLine: false, pointRadius: dotR, pointBackgroundColor: '#000',
      pointBorderWidth: 0, borderColor: '#000' }
  ];
  if (lo) {
    sets.push(
      { data: lineXY(lo), borderWidth: 0, borderColor: 'rgba(0,0,0,0)', pointRadius: 0,
        cubicInterpolationMode: 'monotone', spanGaps: false, fill: false },
      { data: lineXY(hi), borderWidth: 0, borderColor: 'rgba(0,0,0,0)', pointRadius: 0,
        cubicInterpolationMode: 'monotone', spanGaps: false, fill: '-1', backgroundColor: 'rgba(255,0,0,0.3)' }
    );
  }
  return sets;
}

const oneDec = v => v.toFixed(1), whole = v => String(v);
const laiFacets = [
  { label: 'PAST', y: { min: -0.07, max: 2.1, major: [0, 0.5, 1, 1.5, 2], minor: [0.25, 0.75, 1.25, 1.75], fmt: oneDec },
    b: [pastModis, pastMean, pastLo, pastHi], c: [cPastModis, cPastMean, cPastLo, cPastHi] },
  { label: 'AGRL', y: { min: -0.24, max: 4.25, major: [0, 1, 2, 3, 4], minor: [0.5, 1.5, 2.5, 3.5], fmt: whole },
    b: [agrlModis, agrlMean, agrlLo, agrlHi], c: [cAgrlModis, cAgrlMean, cAgrlLo, cAgrlHi] },
  { label: 'FRST', y: { min: -0.095, max: 2.125, major: [0, 0.5, 1, 1.5, 2], minor: [0.25, 0.75, 1.25, 1.75], fmt: oneDec },
    b: [frstModis, frstMean, frstLo, frstHi], c: [cFrstModis, cFrstMean, cFrstLo, cFrstHi] },
  { label: 'FETZ', y: { min: -0.147, max: 6.34, major: [0, 2, 4, 6], minor: [1, 3, 5], fmt: whole },
    b: [fetzModis, fetzMean, null, null], c: [cFetzModis, cFetzMean, null, null] }
];

laiFacets.forEach((f, k) => {
  const top = 350 + 146.7 * k;
  const last = k === laiFacets.length - 1;
  const yAxis = Object.assign({ ticks: true, labels: true }, f.y);
  facet({
    label: f.label, left: 95, top, w: 608, h: 102, strip: 33, padL: 60, padB: last ? 30 : 2,
    x: { min: 2004.46, max: 2016.57, major: [2005, 2010, 2015], minor: [2007.5, 2012.5], ticks: last, labels: last, fmt: whole },
    y: yAxis, split: SPLIT_YEAR,
    datasets: laiSets(f.b, halfMonthly, monthly, 3.7)
  });
  facet({
    label: f.label, left: 785, top, w: 303, h: 102, strip: 33, padL: 60, padB: last ? 30 : 2,
    x: { min: -17.5, max: 382.5, major: [0, 100, 200, 300], minor: [50, 150, 250, 350], ticks: last, labels: last, fmt: whole },
    y: yAxis,
    datasets: laiSets(f.c, byDay, byDay, 5)
  });
});
</script>
</body>
</html>
